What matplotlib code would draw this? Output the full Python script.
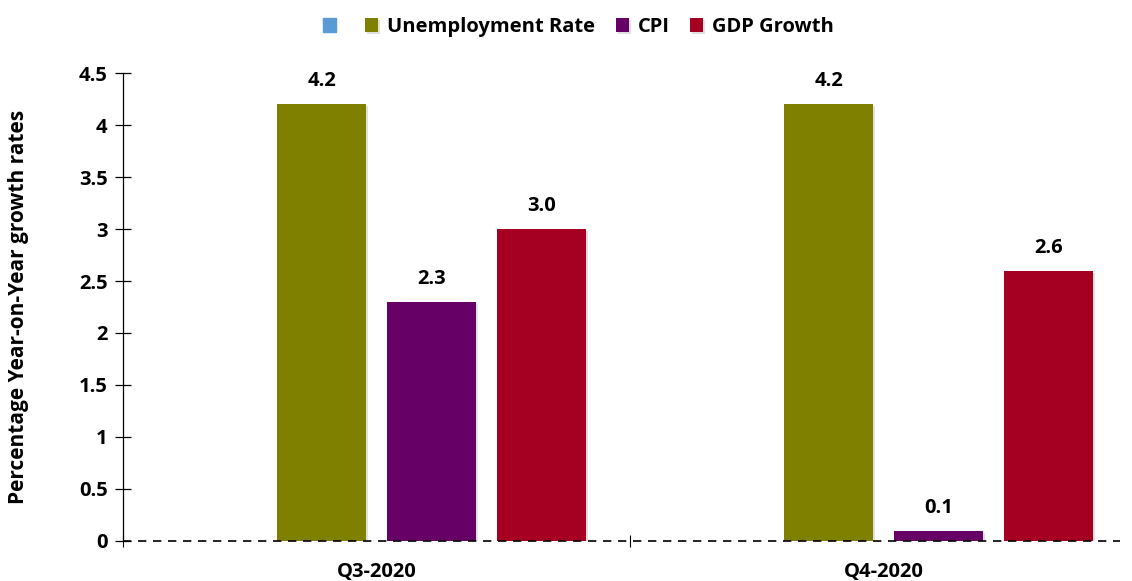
import matplotlib
matplotlib.use("Agg")
import matplotlib.pyplot as plt
import matplotlib.patheffects as pe
import numpy as np

# quarterly indicators, percent year-on-year
quarters = ["Q3-2020", "Q4-2020"]
series_names = ["", "Unemployment Rate", "CPI", "GDP Growth"]
blank = [None, None]
unemployment = [4.2, 4.2]
cpi = [2.3, 0.1]
gdp_growth = [3.0, 2.6]

colors = ["#5B9BD5", "#808000", "#660066", "#A50021"]

plt.rcParams["font.family"] = ["Open Sans", "DejaVu Sans"]
plt.rcParams["font.weight"] = "bold"
fs = 14.5

fig = plt.figure(figsize=(11.32, 5.81), dpi=100)
ax = fig.add_axes([123 / 1132, 40 / 581, (1120 - 123) / 1132, 468 / 581])

x = np.arange(len(quarters))
step = 0.217
width = 0.1755
shadow = [pe.SimplePatchShadow(offset=(1.5, -1.5), shadow_rgbFace="0.6", alpha=0.3), pe.Normal()]

handles = []
for i, (name, vals) in enumerate(zip(series_names, [blank, unemployment, cpi, gdp_growth])):
    pos = x + (i - 1.5) * step
    h = [v if v is not None else 0 for v in vals]
    bars = ax.bar(pos, h, width, color=colors[i], label=name, zorder=2)
    if vals[0] is None:
        # series with no data: keeps its slot and legend key only
        for b in bars:
            b.set_visible(False)
        handles.append(plt.Rectangle((0, 0), 1, 1, color=colors[i]))
        continue
    handles.append(bars)
    for b, v in zip(bars, vals):
        b.set_path_effects(shadow)
        ax.annotate(f"{v:.1f}", (b.get_x() + b.get_width() / 2, v),
                    xytext=(0, 13), textcoords="offset points",
                    ha="center", va="baseline", fontsize=fs, fontweight="bold")

ax.set_xlim(-0.5, 1.466)
ax.set_ylim(0, 4.5)
ax.set_yticks(np.arange(0, 4.51, 0.5))
ax.set_yticklabels(["0", "0.5", "1", "1.5", "2", "2.5", "3", "3.5", "4", "4.5"])
ax.tick_params(axis="y", direction="inout", length=12, width=0.9, labelsize=fs, pad=5)

ax.set_xticks(x)
ax.set_xticklabels(quarters, fontsize=fs, fontweight="bold")
ax.tick_params(axis="x", length=0, pad=15)
ax.set_xticks([-0.5, 0.5], minor=True)
ax.tick_params(axis="x", which="minor", direction="inout", length=8, width=0.8)

for s in ["top", "right", "bottom"]:
    ax.spines[s].set_visible(False)
ax.spines["left"].set_linewidth(0.9)
ax.axhline(0, color="black", lw=1.2, ls=(0, (5, 4)), zorder=3, clip_on=False)

ax.set_ylabel("Percentage Year-on-Year growth rates", fontsize=15, fontweight="bold")
ax.yaxis.set_label_coords(-0.094, 0.5)

fig.legend(handles, series_names, loc="center", bbox_to_anchor=(0.511, 1 - 27 / 581),
           ncol=4, frameon=False, fontsize=fs, handlelength=0.65, handleheight=0.65,
           handletextpad=0.45, columnspacing=1.0)

fig.savefig("out.png", dpi=100)
